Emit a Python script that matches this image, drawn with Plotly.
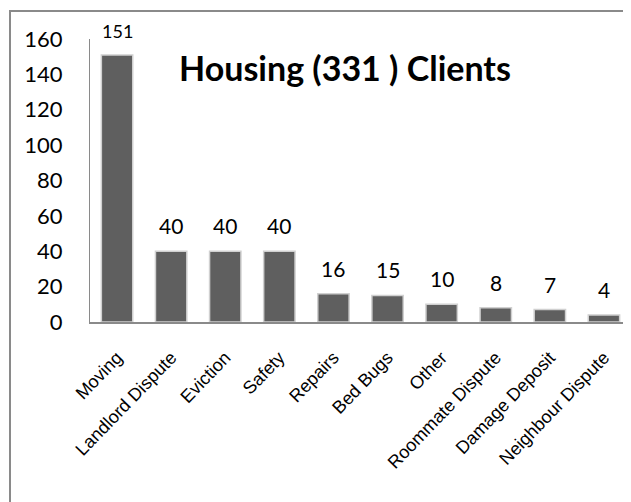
import plotly.graph_objects as go

categories = ["Moving", "Landlord Dispute", "Eviction", "Safety", "Repairs",
              "Bed Bugs", "Other", "Roommate Dispute", "Damage Deposit", "Neighbour Dispute"]
values = [151, 40, 40, 40, 16, 15, 10, 8, 7, 4]
y_ticks = [0, 20, 40, 60, 80, 100, 120, 140, 160]
title_text = "Housing (331 ) Clients"

W, H = 631, 502
OFF = 8  # page body margin offset
# desired plot area in screen pixels: x 90..631, y 39..322
L, R, T, B = 90 - OFF, OFF, 39 - OFF, 502 - 322 + OFF

fig = go.Figure()
fig.add_trace(go.Bar(
    x=categories, y=values,
    marker=dict(color="#5f5f5f", line=dict(color="#d0d0d0", width=1.5)),
    width=0.58,
    showlegend=False,
    hoverinfo="skip",
))

for i, (c, v) in enumerate(zip(categories, values)):
    fig.add_annotation(x=c, y=v, text=str(v), showarrow=False,
                       yanchor="bottom", yshift=11,
                       font=dict(family="Lato, Noto Sans, sans-serif",
                                 size=18 if i == 0 else 21, color="#000000"))

# screen px -> paper coords
px0, px1 = 90, 631
py0, py1 = 322, 39

def px(X):
    return (X - px0) / (px1 - px0)

def py(Y):
    return (py0 - Y) / (py0 - py1)

fig.add_annotation(xref="paper", yref="paper", x=px(345), y=py(67),
                   text="<b>" + title_text + "</b>", showarrow=False,
                   xanchor="center", yanchor="middle",
                   font=dict(family="Lato, Noto Sans, sans-serif", size=34, color="#000000"))

fig.add_shape(type="rect", xref="paper", yref="paper",
              x0=px(10), y0=py(560), x1=px(700), y1=py(11),
              line=dict(color="#8a8a8a", width=2), fillcolor="rgba(0,0,0,0)", layer="below")

fig.update_layout(
    width=W, height=H,
    margin=dict(l=L, r=R, t=T, b=B, pad=0),
    paper_bgcolor="white", plot_bgcolor="white",
    xaxis=dict(
        showline=True, linecolor="#8a8a8a", linewidth=2,
        showgrid=False, ticks="", tickangle=-46,
        tickfont=dict(family="Liberation Sans, Arial, sans-serif", size=18, color="#000000"),
        ticklabelstandoff=16,
    ),
    yaxis=dict(
        range=[0, 160], tickvals=y_ticks,
        showline=True, linecolor="#8a8a8a", linewidth=1,
        showgrid=False, zeroline=False, ticks="",
        tickfont=dict(family="Lato, Noto Sans, sans-serif", size=22, color="#000000"),
        ticklabelstandoff=22,
    ),
)

fig.write_html("out.html")
